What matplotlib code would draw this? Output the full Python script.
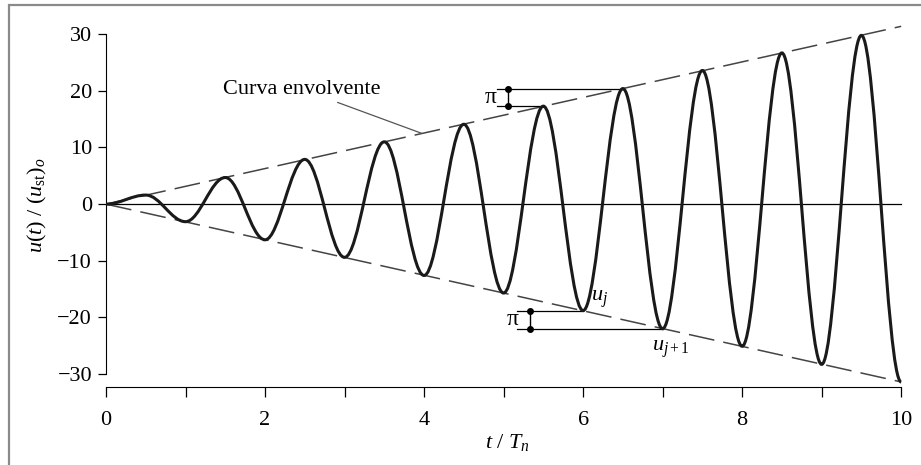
import matplotlib
matplotlib.use("Agg")
import matplotlib.pyplot as plt
from matplotlib.path import Path
from matplotlib.patches import PathPatch, Rectangle

# response peaks (t/Tn, u/ust)
t_ext = [0.0, 0.5, 1.0, 1.5, 2.0, 2.5, 3.0, 3.5, 4.0, 4.5, 5.0,
         5.5, 6.0, 6.5, 7.0, 7.5, 8.0, 8.5, 9.0, 9.5, 10.0]
u_ext = [0.0, 1.6, -3.1, 4.7, -6.3, 7.9, -9.4, 11.0, -12.6, 14.1, -15.7,
         17.3, -18.8, 20.4, -22.0, 23.6, -25.1, 26.7, -28.3, 29.8, -31.4]

env_t = [0.0, 10.0]
env_up = [0.0, 31.4]
env_lo = [0.0, -31.4]

xticks = [0, 2, 4, 6, 8, 10]
xminor = [1, 3, 5, 7, 9]
yticks = [-30, -20, -10, 0, 10, 20, 30]

plt.rcParams['font.family'] = ['Liberation Serif', 'DejaVu Serif']
plt.rcParams['mathtext.fontset'] = 'custom'
plt.rcParams['mathtext.rm'] = 'Liberation Serif'
plt.rcParams['mathtext.it'] = 'Liberation Serif:italic'
plt.rcParams['font.size'] = 16

fig = plt.figure(figsize=(9.21, 4.65), dpi=100)
ax = fig.add_axes([0.1151, 0.1677, 0.872, 0.783])

# smooth curve through the peaks: cubic bezier pieces, flat at each peak
k = 0.36
verts = [(t_ext[0], u_ext[0])]
codes = [Path.MOVETO]
for i in range(len(t_ext) - 1):
    t0, t1 = t_ext[i], t_ext[i + 1]
    d = t1 - t0
    verts += [(t0 + k * d, u_ext[i]), (t1 - k * d, u_ext[i + 1]), (t1, u_ext[i + 1])]
    codes += [Path.CURVE4] * 3
ax.add_patch(PathPatch(Path(verts, codes), fill=False, ec='#1a1a1a', lw=2.2, zorder=4))

ax.plot(env_t, env_up, color='#444444', lw=1.1, dashes=(17, 6))
ax.plot(env_t, env_lo, color='#444444', lw=1.1, dashes=(17, 6))
ax.plot([0, 10], [0, 0], color='black', lw=0.9)

# pi markers
ax.plot([4.92, 6.5], [20.4, 20.4], color='black', lw=0.9)
ax.plot([4.92, 5.5], [17.3, 17.3], color='black', lw=0.9)
ax.plot([5.06, 5.06], [20.4, 17.3], color='black', lw=1.0, marker='o', ms=4)
ax.text(4.91, 18.85, '\u03c0', ha='right', va='center', fontsize=17)

ax.plot([5.17, 6.0], [-18.8, -18.8], color='black', lw=0.9)
ax.plot([5.17, 7.0], [-22.0, -22.0], color='black', lw=0.9)
ax.plot([5.33, 5.33], [-18.8, -22.0], color='black', lw=1.0, marker='o', ms=4)
ax.text(5.19, -20.4, '\u03c0', ha='right', va='center', fontsize=17)

ax.text(6.1, -16.8, r'$u_j$', ha='left', va='center', fontsize=16)
ax.text(7.1, -25.6, r'$u_{j+1}$', ha='center', va='center', fontsize=16)

ax.annotate('Curva envolvente', xy=(3.97, 12.5), xytext=(3.45, 20.3),
            ha='right', va='center', fontsize=16,
            arrowprops=dict(arrowstyle='-', color='#555555', lw=0.9,
                            shrinkA=2, shrinkB=0))

ax.set_xlim(0, 10.1)
ax.set_ylim(-32.3, 32.0)
ax.spines['top'].set_visible(False)
ax.spines['right'].set_visible(False)
ax.spines['left'].set_bounds(-30, 30)
ax.spines['bottom'].set_bounds(0, 10)
ax.set_xticks(xticks)
ax.set_xticks(xminor, minor=True)
ax.set_yticks(yticks)
ax.set_yticklabels([str(v).replace('-', '\u2212') for v in yticks])
ax.tick_params(which='both', direction='out', length=6, width=0.9, labelsize=16, pad=4)
ax.tick_params(axis='x', which='both', length=7, pad=10)

ax.set_xlabel(r'$t\ /\ T_n$', fontsize=16, labelpad=2)
ax.set_ylabel(r'$u(t)\ /\ (u_{\rm st})_o$', fontsize=16, labelpad=6)

fig.add_artist(Rectangle((9 / 921, -0.2), 1.2, 1.2 - 5 / 465, transform=fig.transFigure,
                         fill=False, ec='#8a8a8a', lw=1.6))

plt.savefig('out.png', dpi=100)
